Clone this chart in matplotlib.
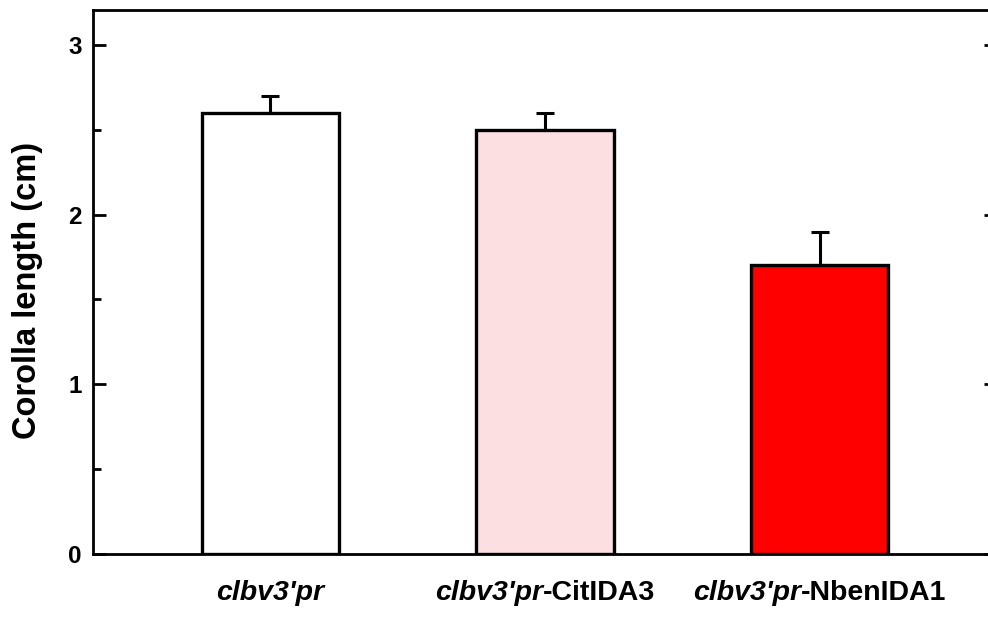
import matplotlib
matplotlib.use("Agg")
import matplotlib.pyplot as plt
from matplotlib.offsetbox import TextArea, HPacker, AnnotationBbox
from matplotlib.ticker import MultipleLocator

plt.rcParams['font.family'] = ['Liberation Sans', 'DejaVu Sans']

prefixes = ["clbv3'pr", "clbv3'pr", "clbv3'pr"]
suffixes = ["", "-CitIDA3", "-NbenIDA1"]
values = [2.6, 2.5, 1.7]
errors = [0.1, 0.1, 0.2]
colors = ["#FFFFFF", "#FCDFE1", "#FF0000"]
yticks = [0, 1, 2, 3]

fig = plt.figure(figsize=(9.88, 6.21), dpi=100)
ax = fig.add_axes([93/988, 67/621, (990-93)/988, (611-67)/621])

x = list(range(len(values)))
ax.bar(x, values, width=0.5, color=colors, edgecolor="black", linewidth=2.4, zorder=2)
ax.errorbar(x, values, yerr=[[0]*len(errors), errors], fmt="none", ecolor="black",
            elinewidth=2.2, capsize=6.5, capthick=2.2, zorder=1)

ax.set_xlim(-0.645, 2.62)
ax.set_ylim(0, 3.205)
ax.set_yticks(yticks)
ax.set_yticklabels([str(t) for t in yticks], fontsize=17.5, fontweight="bold")
ax.yaxis.set_minor_locator(MultipleLocator(0.5))
ax.tick_params(axis="y", which="major", direction="in", length=9, width=2.0, pad=8)
ax.tick_params(axis="y", which="minor", direction="in", length=5.5, width=2.0)
ax.tick_params(axis="x", which="both", bottom=False, labelbottom=False)
for s in ["left", "bottom", "top"]:
    ax.spines[s].set_linewidth(2.0)
ax.spines["right"].set_visible(False)

# right-side major ticks (spine lies just outside the figure)
ax2 = ax.twinx()
ax2.set_ylim(ax.get_ylim())
ax2.set_yticks(yticks)
ax2.tick_params(axis="y", which="major", direction="in", length=4, width=2.0, labelright=False)
for s in ax2.spines.values():
    s.set_visible(False)

ax.set_ylabel("Corolla length (cm)", fontsize=23.5, fontweight="bold")
ax.yaxis.set_label_coords(-0.056, 0.485)

for xi, p, s in zip(x, prefixes, suffixes):
    children = [TextArea(p, textprops=dict(fontsize=20.5, fontweight="bold", fontstyle="italic"))]
    if s:
        children.append(TextArea(s, textprops=dict(fontsize=20.5, fontweight="bold")))
    box = HPacker(children=children, pad=0, sep=0, align="baseline")
    ab = AnnotationBbox(box, (xi, -0.047), xycoords=("data", "axes fraction"),
                        box_alignment=(0.5, 1.0), frameon=False, annotation_clip=False)
    ax.add_artist(ab)

fig.savefig("out.png", dpi=100)
